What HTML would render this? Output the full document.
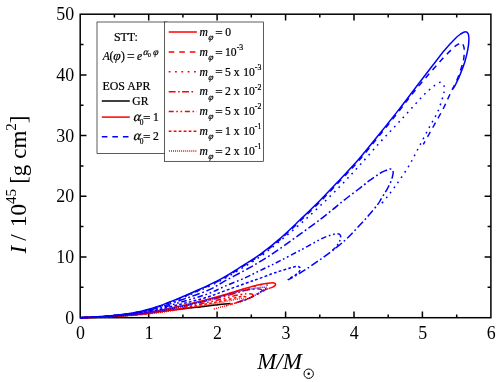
<!DOCTYPE html>
<html><head><meta charset="utf-8"><title>I vs M</title>
<style>html,body{margin:0;padding:0;background:#fff;}body{width:498px;height:382px;overflow:hidden;font-family:"Liberation Serif",serif;}svg{display:block;will-change:transform;}</style></head>
<body>
<svg width="498" height="382" viewBox="0 0 498 382">
<rect width="498" height="382" fill="#fff"/>
<g stroke="#000" stroke-width="1.5" fill="none">
<rect x="80.2" y="14.2" width="410.7" height="303.5"/>
<path d="M114.4 317.7v-3.3M114.4 14.2v3.3M148.7 317.7v-6.3M148.7 14.2v6.3M182.9 317.7v-3.3M182.9 14.2v3.3M217.1 317.7v-6.3M217.1 14.2v6.3M251.3 317.7v-3.3M251.3 14.2v3.3M285.6 317.7v-6.3M285.6 14.2v6.3M319.8 317.7v-3.3M319.8 14.2v3.3M354.0 317.7v-6.3M354.0 14.2v6.3M388.2 317.7v-3.3M388.2 14.2v3.3M422.4 317.7v-6.3M422.4 14.2v6.3M456.7 317.7v-3.3M456.7 14.2v3.3M80.2 287.3h3.3M490.9 287.3h-3.3M80.2 257.0h6.3M490.9 257.0h-6.3M80.2 226.6h3.3M490.9 226.6h-3.3M80.2 196.3h6.3M490.9 196.3h-6.3M80.2 165.9h3.3M490.9 165.9h-3.3M80.2 135.6h6.3M490.9 135.6h-6.3M80.2 105.2h3.3M490.9 105.2h-3.3M80.2 74.9h6.3M490.9 74.9h-6.3M80.2 44.5h3.3M490.9 44.5h-3.3"/>
</g>
<g fill="none" stroke-width="1.5" stroke-linejoin="round">
<path d="M80.2 317.7C83.5 317.6 93.4 317.5 100.0 317.2C106.6 316.9 113.3 316.5 120.0 316.0C126.7 315.5 133.5 315.0 140.2 314.3C146.9 313.6 153.6 312.5 160.3 311.6C167.0 310.7 173.9 309.8 180.5 309.0C187.1 308.2 194.2 307.5 200.0 306.9C205.8 306.2 210.8 305.6 215.0 305.1C219.2 304.6 222.4 304.2 225.0 304.0C227.6 303.8 229.6 303.7 230.5 303.6" stroke="#000000"/>
<path d="M80.2 317.7C83.5 317.6 93.4 317.4 100.0 317.0C106.6 316.6 113.3 316.2 120.0 315.6C126.7 315.0 133.5 314.4 140.2 313.5C146.9 312.6 153.6 311.4 160.3 310.2C167.0 308.9 173.8 307.5 180.5 306.0C187.2 304.5 193.7 303.0 200.3 301.3C206.9 299.6 213.5 297.9 220.1 296.0C226.7 294.1 235.3 291.4 240.0 290.0C244.7 288.6 245.4 288.4 248.1 287.6C250.8 286.8 253.5 286.0 256.2 285.4C258.9 284.8 262.0 284.1 264.4 283.7C266.8 283.3 269.2 283.0 270.8 282.9C272.4 282.8 273.2 282.8 274.0 283.0C274.8 283.2 275.5 283.6 275.6 284.1C275.7 284.6 275.2 285.4 274.7 285.9C274.2 286.4 273.2 286.8 272.5 287.2C271.8 287.6 270.7 288.0 270.3 288.1" stroke="#ff0000"/>
<path d="M267.9 288.6C267.7 288.7 267.5 288.7 266.8 289.1C266.1 289.5 264.6 290.2 263.5 290.8C262.4 291.4 261.1 292.0 260.0 292.6C258.9 293.2 257.5 294.0 257.0 294.3" stroke="#ff0000" stroke-dasharray="5.6 5.0"/>
<path d="M80.2 317.7C83.5 317.6 93.4 317.4 100.0 317.0C106.6 316.7 113.3 316.2 120.0 315.6C126.7 315.1 133.5 314.4 140.2 313.6C146.9 312.7 153.6 311.5 160.3 310.3C167.0 309.1 173.8 307.6 180.5 306.2C187.2 304.7 193.7 303.2 200.3 301.5C206.9 299.9 213.5 298.2 220.1 296.3C226.7 294.5 235.3 291.8 240.0 290.4C244.7 289.0 245.4 288.8 248.1 288.1C250.8 287.3 253.5 286.5 256.2 285.9C258.9 285.3 262.5 284.4 264.4 284.3C266.3 284.1 266.6 284.9 267.6 285.2C268.6 285.5 270.4 285.7 270.6 286.2C270.9 286.7 270.1 287.8 269.1 288.5C268.1 289.2 266.4 289.5 264.6 290.3C262.9 291.1 260.6 292.3 258.6 293.4C256.6 294.5 253.7 296.1 252.6 296.7C251.5 297.2 252.1 296.9 252.0 296.9" stroke="#ff0000" stroke-dasharray="1.7 4.63"/>
<path d="M80.2 317.7C83.5 317.6 93.4 317.4 100.0 317.0C106.6 316.7 113.3 316.3 120.0 315.7C126.7 315.2 133.5 314.6 140.2 313.8C146.9 312.9 153.6 311.9 160.3 310.7C167.0 309.5 173.8 308.2 180.5 306.8C187.2 305.4 193.7 304.0 200.3 302.4C206.9 300.9 213.5 299.3 220.1 297.5C226.7 295.8 235.3 293.3 240.0 292.0C244.7 290.7 244.9 290.3 248.1 289.8C251.3 289.3 256.7 289.0 259.0 289.0C261.3 289.0 261.8 289.4 262.0 290.0C262.2 290.6 261.5 291.5 260.5 292.4C259.5 293.2 257.8 293.9 256.0 294.9C254.2 295.8 251.7 297.1 250.0 297.9C248.3 298.6 246.7 299.3 246.0 299.6" stroke="#ff0000" stroke-dasharray="7.8 2.7 1.8 2.7"/>
<path d="M80.2 317.7C83.5 317.6 93.4 317.4 100.0 317.1C106.6 316.8 113.3 316.4 120.0 315.9C126.7 315.4 133.5 314.9 140.2 314.1C146.9 313.4 153.6 312.4 160.3 311.4C167.0 310.3 173.8 309.0 180.5 307.8C187.2 306.6 193.7 305.3 200.3 303.9C206.9 302.5 213.5 301.1 220.1 299.5C226.7 298.0 235.0 295.5 240.0 294.6C245.0 293.6 247.8 293.8 250.0 293.8C252.2 293.8 252.8 294.2 253.0 294.8C253.2 295.4 252.5 296.4 251.5 297.2C250.5 297.9 248.8 298.5 247.0 299.2C245.2 299.9 242.5 300.8 241.0 301.3C239.5 301.8 238.5 302.1 238.0 302.2" stroke="#ff0000" stroke-dasharray="5.6 2.7 1.7 2.7 1.7 2.7"/>
<path d="M80.2 317.7C83.5 317.6 93.4 317.4 100.0 317.1C106.6 316.8 113.3 316.5 120.0 316.0C126.7 315.6 133.5 315.1 140.2 314.5C146.9 313.8 153.6 312.9 160.3 311.9C167.0 310.9 173.8 309.8 180.5 308.7C187.2 307.5 193.7 306.4 200.3 305.1C206.9 303.9 213.5 302.6 220.1 301.2C226.7 299.8 236.0 297.6 240.0 296.8C244.0 296.0 242.8 296.5 244.0 296.6C245.2 296.7 246.8 297.1 247.0 297.6C247.2 298.1 246.5 299.1 245.5 299.8C244.5 300.4 242.8 300.7 241.0 301.3C239.2 301.9 237.0 302.5 235.0 303.1C233.0 303.7 230.5 304.4 229.0 304.8C227.5 305.2 226.5 305.5 226.0 305.7" stroke="#ff0000" stroke-dasharray="2.8 2.2"/>
<path d="M80.2 317.7C83.5 317.6 93.4 317.4 100.0 317.1C106.6 316.9 113.3 316.5 120.0 316.1C126.7 315.7 133.5 315.3 140.2 314.7C146.9 314.1 153.6 313.2 160.3 312.4C167.0 311.5 173.8 310.4 180.5 309.4C187.2 308.4 193.7 307.3 200.3 306.2C206.9 305.0 213.5 303.9 220.1 302.6C226.7 301.4 236.2 299.1 240.0 298.6C243.8 298.1 242.8 299.2 243.0 299.6C243.2 300.0 242.5 300.7 241.5 301.1C240.5 301.6 238.8 302.0 237.0 302.5C235.2 303.0 233.0 303.7 231.0 304.2C229.0 304.8 227.0 305.4 225.0 305.9C223.0 306.5 221.0 307.0 219.0 307.6C217.0 308.1 214.0 308.9 213.0 309.2" stroke="#ff0000" stroke-dasharray="1.0 1.05"/>
<path d="M80.2 317.7C83.5 317.6 93.4 317.3 100.0 317.0C106.6 316.7 113.3 316.4 120.0 315.9C126.7 315.4 133.5 314.9 140.2 314.0C146.9 313.1 153.6 312.0 160.3 310.8C167.0 309.6 173.8 308.2 180.5 306.7C187.2 305.2 193.7 303.6 200.3 302.0C206.9 300.4 213.5 298.6 220.1 296.8C226.7 295.0 235.3 292.4 240.0 291.2C244.7 290.0 245.4 290.0 248.1 289.5C250.8 289.0 253.7 288.5 256.2 288.1C258.7 287.7 261.3 287.3 263.0 287.2C264.7 287.1 266.4 287.1 266.6 287.5C266.8 287.9 265.1 289.0 264.0 289.8C262.9 290.6 261.8 291.3 260.1 292.3C258.5 293.3 256.1 294.7 254.1 295.7C252.1 296.7 249.9 297.7 248.1 298.5C246.3 299.3 245.0 299.8 243.2 300.4C241.3 301.0 238.0 302.1 237.0 302.4" stroke="#0000ff" stroke-dasharray="1.0 1.05"/>
<path d="M80.2 317.7C83.5 317.6 93.4 317.3 100.0 316.9C106.6 316.5 113.3 316.0 120.0 315.4C126.7 314.8 133.5 314.0 140.2 313.0C146.9 312.0 153.6 310.7 160.3 309.2C167.0 307.7 174.7 305.6 180.5 304.2C186.3 302.8 190.1 301.9 195.0 300.6C199.9 299.3 205.1 297.9 210.0 296.3C214.9 294.7 218.7 293.0 224.5 290.9C230.3 288.8 239.4 285.5 245.0 283.5C250.6 281.5 253.5 280.6 258.0 279.0C262.5 277.4 268.0 275.2 271.8 273.8C275.6 272.4 277.7 271.9 280.7 270.9C283.7 269.9 287.3 268.7 290.0 268.0C292.7 267.3 295.3 266.5 297.0 266.5C298.7 266.5 299.9 267.2 300.3 268.0C300.7 268.8 300.1 270.3 299.4 271.4C298.7 272.5 297.2 273.7 296.0 274.6C294.8 275.5 293.4 276.2 292.0 277.0C290.6 277.8 288.4 279.2 287.7 279.6" stroke="#0000ff" stroke-dasharray="2.8 2.2"/>
<path d="M80.2 317.7C83.5 317.6 93.4 317.3 100.0 316.9C106.6 316.5 113.3 315.9 120.0 315.2C126.7 314.5 133.5 313.8 140.2 312.6C146.9 311.4 153.6 309.9 160.3 308.2C167.0 306.5 174.7 304.0 180.5 302.3C186.3 300.6 190.1 299.6 195.0 298.0C199.9 296.4 205.0 295.0 210.0 293.0C215.0 291.0 219.2 288.7 225.0 286.2C230.8 283.7 239.6 280.3 245.0 277.9C250.4 275.5 253.3 273.8 257.2 271.9C261.1 270.0 264.6 268.4 268.5 266.5C272.4 264.6 275.0 263.4 280.3 260.7C285.6 258.0 293.4 253.9 300.1 250.4C306.8 246.9 315.2 241.9 320.3 239.4C325.4 236.9 327.6 236.1 330.4 235.2C333.2 234.3 335.3 233.8 337.0 233.8C338.7 233.8 339.9 234.2 340.4 235.3C340.9 236.4 340.6 238.3 340.0 240.2C339.4 242.0 337.8 244.7 336.5 246.4C335.2 248.1 333.2 249.6 332.5 250.2" stroke="#0000ff" stroke-dasharray="5.6 2.7 1.7 2.7 1.7 2.7"/>
<path d="M80.2 317.7C83.5 317.6 93.4 317.2 100.0 316.8C106.6 316.4 113.3 315.8 120.0 315.0C126.7 314.2 133.5 313.4 140.2 312.1C146.9 310.8 153.6 309.0 160.3 307.0C167.0 305.0 174.7 302.2 180.5 300.2C186.3 298.2 190.1 297.0 195.0 295.2C199.9 293.4 205.0 291.8 210.0 289.4C215.0 287.0 219.2 284.1 225.0 280.9C230.8 277.7 239.6 273.1 245.0 270.2C250.4 267.3 253.3 265.6 257.2 263.3C261.1 261.0 264.7 258.8 268.5 256.4C272.3 253.9 274.7 252.3 280.0 248.6C285.3 244.9 293.4 239.0 300.1 234.2C306.8 229.3 314.7 223.7 320.2 219.5C325.7 215.3 329.8 211.8 333.2 209.1C336.6 206.4 337.7 205.3 340.3 203.2C342.9 201.1 345.8 198.8 348.8 196.5C351.8 194.2 355.6 191.4 358.1 189.5C360.7 187.6 362.3 186.2 364.1 184.8C365.9 183.4 367.1 182.2 368.9 180.9C370.7 179.6 373.0 178.0 374.9 176.7C376.8 175.4 378.5 174.1 380.4 173.0C382.3 171.9 384.8 170.9 386.4 170.2C388.0 169.5 388.8 169.1 389.8 169.0C390.8 168.9 391.6 169.0 392.2 169.6C392.8 170.2 393.2 171.3 393.2 172.5C393.2 173.7 392.8 175.3 392.4 176.9C392.0 178.5 391.4 180.4 390.6 182.3C389.8 184.2 388.5 186.6 387.6 188.3C386.7 190.0 386.1 190.9 385.0 192.7C383.9 194.5 382.2 197.2 381.0 199.2C379.8 201.2 379.7 201.9 377.6 204.6C375.5 207.3 371.7 211.9 368.5 215.6C365.3 219.2 362.0 222.8 358.5 226.5C355.0 230.2 351.2 234.5 347.5 238.0C343.8 241.5 341.0 243.8 336.5 247.4C332.0 251.0 325.4 255.9 320.3 259.5C315.2 263.1 310.1 266.6 306.2 269.2C302.3 271.8 300.1 273.0 297.1 274.8C294.1 276.6 289.5 279.0 288.0 279.8" stroke="#0000ff" stroke-dasharray="7.8 2.7 1.8 2.7" stroke-dashoffset="5.03"/>
<path d="M80.2 317.7C83.5 317.5 93.4 317.1 100.0 316.7C106.6 316.3 113.3 315.9 120.0 315.1C126.7 314.3 133.5 313.4 140.2 311.9C146.9 310.4 153.6 308.5 160.3 306.3C167.0 304.1 173.8 301.3 180.5 298.6C187.2 295.9 193.7 293.2 200.3 290.3C206.9 287.4 213.5 284.4 220.2 280.9C226.9 277.4 233.6 273.3 240.3 269.2C247.0 265.1 253.9 261.1 260.5 256.4C267.1 251.7 273.4 246.4 280.0 241.0C286.6 235.6 293.3 230.0 300.0 224.2C306.7 218.4 313.3 212.3 320.0 206.0C326.7 199.7 333.6 192.9 340.0 186.3C346.4 179.7 351.8 173.9 358.5 166.6C365.2 159.3 373.1 149.9 380.0 142.3C386.9 134.7 393.2 128.3 400.0 121.0C406.8 113.7 415.6 103.7 420.5 98.4C425.4 93.2 427.1 91.8 429.7 89.5C432.3 87.2 434.1 85.7 436.0 84.5C437.9 83.3 439.6 81.9 441.0 82.2C442.4 82.5 443.7 84.7 444.2 86.5C444.7 88.3 444.2 91.0 443.8 93.2C443.4 95.4 442.9 96.8 441.9 99.9C440.9 103.1 439.6 107.8 437.6 112.1C435.6 116.4 432.9 120.5 430.0 126.0C427.1 131.5 423.3 138.7 420.0 145.0C416.7 151.3 413.5 157.8 410.2 163.6C406.9 169.3 402.9 175.2 400.0 179.5C397.1 183.8 395.2 186.2 393.0 189.2C390.8 192.2 388.8 194.9 386.7 197.5C384.6 200.1 381.6 203.4 380.6 204.6" stroke="#0000ff" stroke-dasharray="1.7 4.63"/>
<path d="M80.2 317.7C83.5 317.5 93.4 317.1 100.0 316.7C106.6 316.2 113.3 315.8 120.0 315.0C126.7 314.2 133.5 313.2 140.2 311.7C146.9 310.2 153.6 308.3 160.3 306.0C167.0 303.7 173.8 300.7 180.5 298.0C187.2 295.3 193.7 292.6 200.3 289.6C206.9 286.6 213.5 283.6 220.2 280.0C226.9 276.4 233.6 272.2 240.3 268.0C247.0 263.8 253.9 259.7 260.5 255.0C267.1 250.3 273.4 245.3 280.0 239.6C286.6 233.9 293.4 227.3 300.1 221.0C306.8 214.7 313.5 208.3 320.2 201.6C326.9 194.9 333.9 187.4 340.3 180.6C346.7 173.8 351.9 168.6 358.5 161.0C365.1 153.4 373.1 143.3 380.0 134.8C386.9 126.3 394.6 116.6 400.0 109.8C405.4 103.0 408.0 99.2 412.3 93.8C416.6 88.4 421.4 82.9 426.0 77.5C430.6 72.1 435.7 66.2 440.0 61.5C444.3 56.8 449.0 51.9 452.0 49.0C455.0 46.1 456.5 45.5 458.0 44.4C459.5 43.3 460.0 42.5 460.9 42.6C461.8 42.7 462.6 43.8 463.2 45.0C463.8 46.2 464.3 47.4 464.3 50.0C464.3 52.6 464.2 56.7 463.4 60.5C462.6 64.3 460.9 69.2 459.6 73.0C458.3 76.8 456.7 80.7 455.4 83.5C454.1 86.3 453.2 87.5 452.0 90.0C450.8 92.5 449.4 95.5 448.0 98.5C446.6 101.5 445.4 104.4 443.6 108.0C441.8 111.6 439.3 115.9 437.0 120.0C434.7 124.1 432.3 128.4 430.0 132.5C427.7 136.6 424.4 142.4 423.3 144.4" stroke="#0000ff" stroke-dasharray="5.6 5.0" stroke-dashoffset="8.47"/>
<path d="M80.2 317.7C83.5 317.5 93.4 317.1 100.0 316.6C106.6 316.1 113.3 315.7 120.0 314.8C126.7 313.9 133.5 312.9 140.2 311.4C146.9 309.9 153.6 307.9 160.3 305.6C167.0 303.3 173.8 300.4 180.5 297.6C187.2 294.8 193.7 292.1 200.3 289.0C206.9 285.9 213.5 282.9 220.2 279.3C226.9 275.7 233.6 271.4 240.3 267.2C247.0 263.0 253.9 258.9 260.5 254.1C267.1 249.3 273.4 244.3 280.0 238.6C286.6 232.9 293.4 226.2 300.1 219.8C306.8 213.4 313.5 207.1 320.2 200.3C326.9 193.5 333.9 186.0 340.3 179.2C346.7 172.4 351.9 167.2 358.5 159.6C365.1 151.9 373.1 141.9 380.0 133.3C386.9 124.7 393.3 116.7 400.0 108.1C406.7 99.5 414.9 88.5 420.3 81.5C425.7 74.5 428.4 71.0 432.4 65.8C436.4 60.6 440.8 54.6 444.5 50.2C448.2 45.8 451.9 41.9 454.6 39.2C457.3 36.5 458.8 35.2 460.6 34.0C462.5 32.8 464.4 31.7 465.7 31.7C467.0 31.7 467.8 32.7 468.3 34.1C468.8 35.5 469.0 37.5 468.9 40.2C468.8 42.9 468.4 46.5 467.7 50.2C467.0 53.9 465.9 58.4 464.7 62.3C463.5 66.2 462.1 69.7 460.6 73.4C459.1 77.1 456.9 81.9 455.6 84.5C454.3 87.1 453.1 88.2 452.6 89.0" stroke="#0000ff"/>
</g>
<g font-family="'Liberation Serif', serif" font-size="17.9" fill="#000">
<text x="80.5" y="338.8" text-anchor="middle">0</text>
<text x="149.0" y="338.8" text-anchor="middle">1</text>
<text x="217.4" y="338.8" text-anchor="middle">2</text>
<text x="285.9" y="338.8" text-anchor="middle">3</text>
<text x="354.3" y="338.8" text-anchor="middle">4</text>
<text x="422.8" y="338.8" text-anchor="middle">5</text>
<text x="491.2" y="338.8" text-anchor="middle">6</text>
<text x="74.2" y="323.6" text-anchor="end">0</text>
<text x="74.2" y="262.9" text-anchor="end">10</text>
<text x="74.2" y="202.2" text-anchor="end">20</text>
<text x="74.2" y="141.5" text-anchor="end">30</text>
<text x="74.2" y="80.8" text-anchor="end">40</text>
<text x="74.2" y="20.1" text-anchor="end">50</text>
</g>
<g font-family="'Liberation Serif', serif" fill="#000">
<text x="257.2" y="368.8" font-size="23" font-style="italic">M/M</text>
<circle cx="308.7" cy="373.7" r="4.7" fill="none" stroke="#000" stroke-width="1"/>
<circle cx="308.7" cy="373.7" r="1.25" fill="#000"/>
<text transform="translate(26.3 253.6) rotate(-90)" font-size="23.1"><tspan font-style="italic">I</tspan><tspan dx="-0.6"> /</tspan><tspan dx="1.4"> 10</tspan><tspan font-size="15" dy="-10.5">45</tspan><tspan dy="10.5" dx="-0.6"> [g cm</tspan><tspan font-size="15" dy="-10.5">2</tspan><tspan dy="10.5">]</tspan></text>
</g>
<g>
<rect x="97.0" y="22.0" width="70" height="131.4" fill="#fff" stroke="#000" stroke-width="0.64"/>
<rect x="164.4" y="22.0" width="99.0" height="139.3" fill="#fff" stroke="#000" stroke-width="0.64"/>
</g>
<g font-family="'Liberation Serif', serif" font-size="11.6" fill="#000" stroke="#000" stroke-width="0.22">
<text x="113.90" y="40.70" font-size="11.90">STT:</text>
<text x="102.80" y="59.80" font-size="11.60" font-style="italic">A</text>
<text x="109.40" y="59.80" font-size="11.60">(</text>
<text transform="translate(112.50 59.80) skewX(-13)" font-size="13.00">&#966;</text>
<text x="120.90" y="59.80" font-size="11.60">)</text>
<text x="127.10" y="60.70" font-size="13.60">=</text>
<text x="136.90" y="59.80" font-size="11.60" font-style="italic">e</text>
<text transform="translate(142.70 54.80) skewX(-13)" font-size="9.60">&#945;</text>
<text x="148.10" y="56.50" font-size="5.80">0</text>
<text transform="translate(152.60 54.80) skewX(-13)" font-size="9.60">&#966;</text>
<text x="102.50" y="89.60" font-size="11.90">EOS APR</text>
<text x="132.30" y="104.60" font-size="11.60">GR</text>
<text transform="translate(132.70 120.80) skewX(-15)" font-size="13.80">&#945;</text>
<text x="139.70" y="124.70" font-size="7.40">0</text>
<text x="142.90" y="121.70" font-size="13.20">=</text>
<text x="152.90" y="120.80" font-size="11.60">1</text>
<text transform="translate(132.70 140.30) skewX(-15)" font-size="13.80">&#945;</text>
<text x="139.70" y="144.20" font-size="7.40">0</text>
<text x="142.90" y="141.20" font-size="13.20">=</text>
<text x="152.90" y="140.30" font-size="11.60">2</text>
<text x="199.40" y="35.70" font-size="11.60" font-style="italic">m</text>
<text transform="translate(207.80 39.90) skewX(-16)" font-size="8.80">&#966;</text>
<text x="215.20" y="36.60" font-size="13.20">=</text>
<text x="225.20" y="35.70" font-size="11.60">0</text>
<text x="199.40" y="55.60" font-size="11.60" font-style="italic">m</text>
<text transform="translate(207.80 59.80) skewX(-16)" font-size="8.80">&#966;</text>
<text x="215.20" y="56.50" font-size="13.20">=</text>
<text x="225.00" y="55.60" font-size="11.60">10</text>
<text x="236.70" y="49.80" font-size="7.80">-3</text>
<text x="199.40" y="75.50" font-size="11.60" font-style="italic">m</text>
<text transform="translate(207.80 79.70) skewX(-16)" font-size="8.80">&#966;</text>
<text x="215.20" y="76.40" font-size="13.20">=</text>
<text x="225.00" y="75.50" font-size="11.60">5 x</text>
<text x="243.20" y="75.50" font-size="11.60">10</text>
<text x="254.80" y="69.70" font-size="7.80">-3</text>
<text x="199.40" y="95.40" font-size="11.60" font-style="italic">m</text>
<text transform="translate(207.80 99.60) skewX(-16)" font-size="8.80">&#966;</text>
<text x="215.20" y="96.30" font-size="13.20">=</text>
<text x="225.00" y="95.40" font-size="11.60">2 x</text>
<text x="243.20" y="95.40" font-size="11.60">10</text>
<text x="254.80" y="89.60" font-size="7.80">-2</text>
<text x="199.40" y="115.20" font-size="11.60" font-style="italic">m</text>
<text transform="translate(207.80 119.40) skewX(-16)" font-size="8.80">&#966;</text>
<text x="215.20" y="116.10" font-size="13.20">=</text>
<text x="225.00" y="115.20" font-size="11.60">5 x</text>
<text x="243.20" y="115.20" font-size="11.60">10</text>
<text x="254.80" y="109.40" font-size="7.80">-2</text>
<text x="199.40" y="135.00" font-size="11.60" font-style="italic">m</text>
<text transform="translate(207.80 139.20) skewX(-16)" font-size="8.80">&#966;</text>
<text x="215.20" y="135.90" font-size="13.20">=</text>
<text x="225.00" y="135.00" font-size="11.60">1 x</text>
<text x="243.20" y="135.00" font-size="11.60">10</text>
<text x="254.80" y="129.20" font-size="7.80">-1</text>
<text x="199.40" y="154.80" font-size="11.60" font-style="italic">m</text>
<text transform="translate(207.80 159.00) skewX(-16)" font-size="8.80">&#966;</text>
<text x="215.20" y="155.70" font-size="13.20">=</text>
<text x="225.00" y="154.80" font-size="11.60">2 x</text>
<text x="243.20" y="154.80" font-size="11.60">10</text>
<text x="254.80" y="149.00" font-size="7.80">-1</text>
</g>
<g fill="none" stroke-width="1.5">
<path d="M101.8 101.0H129.8" stroke="#000"/>
<path d="M101.8 117.1H129.8" stroke="#ff0000"/>
<path d="M101.8 136.7H129.8" stroke="#0000ff" stroke-dasharray="5.6 4.95"/>
<path d="M168.70 32.0H196.9" stroke="#ff0000"/>
<path d="M168.70 51.9H196.9" stroke="#ff0000" stroke-dasharray="5.6 4.95"/>
<path d="M168.70 71.8H196.9" stroke="#ff0000" stroke-dasharray="1.8 4.53"/>
<path d="M168.70 91.7H194.3" stroke="#ff0000" stroke-dasharray="6.9 2.5 1.6 2.4"/>
<path d="M168.70 111.5H196.9" stroke="#ff0000" stroke-dasharray="5.0 2.6 1.6 2.6 1.6 2.8"/>
<path d="M168.70 131.3H196.9" stroke="#ff0000" stroke-dasharray="2.8 2.18"/>
<path d="M168.95 151.1H196.9" stroke="#ff0000" stroke-dasharray="1.0 1.03"/>
</g>
</svg>
</body></html>
